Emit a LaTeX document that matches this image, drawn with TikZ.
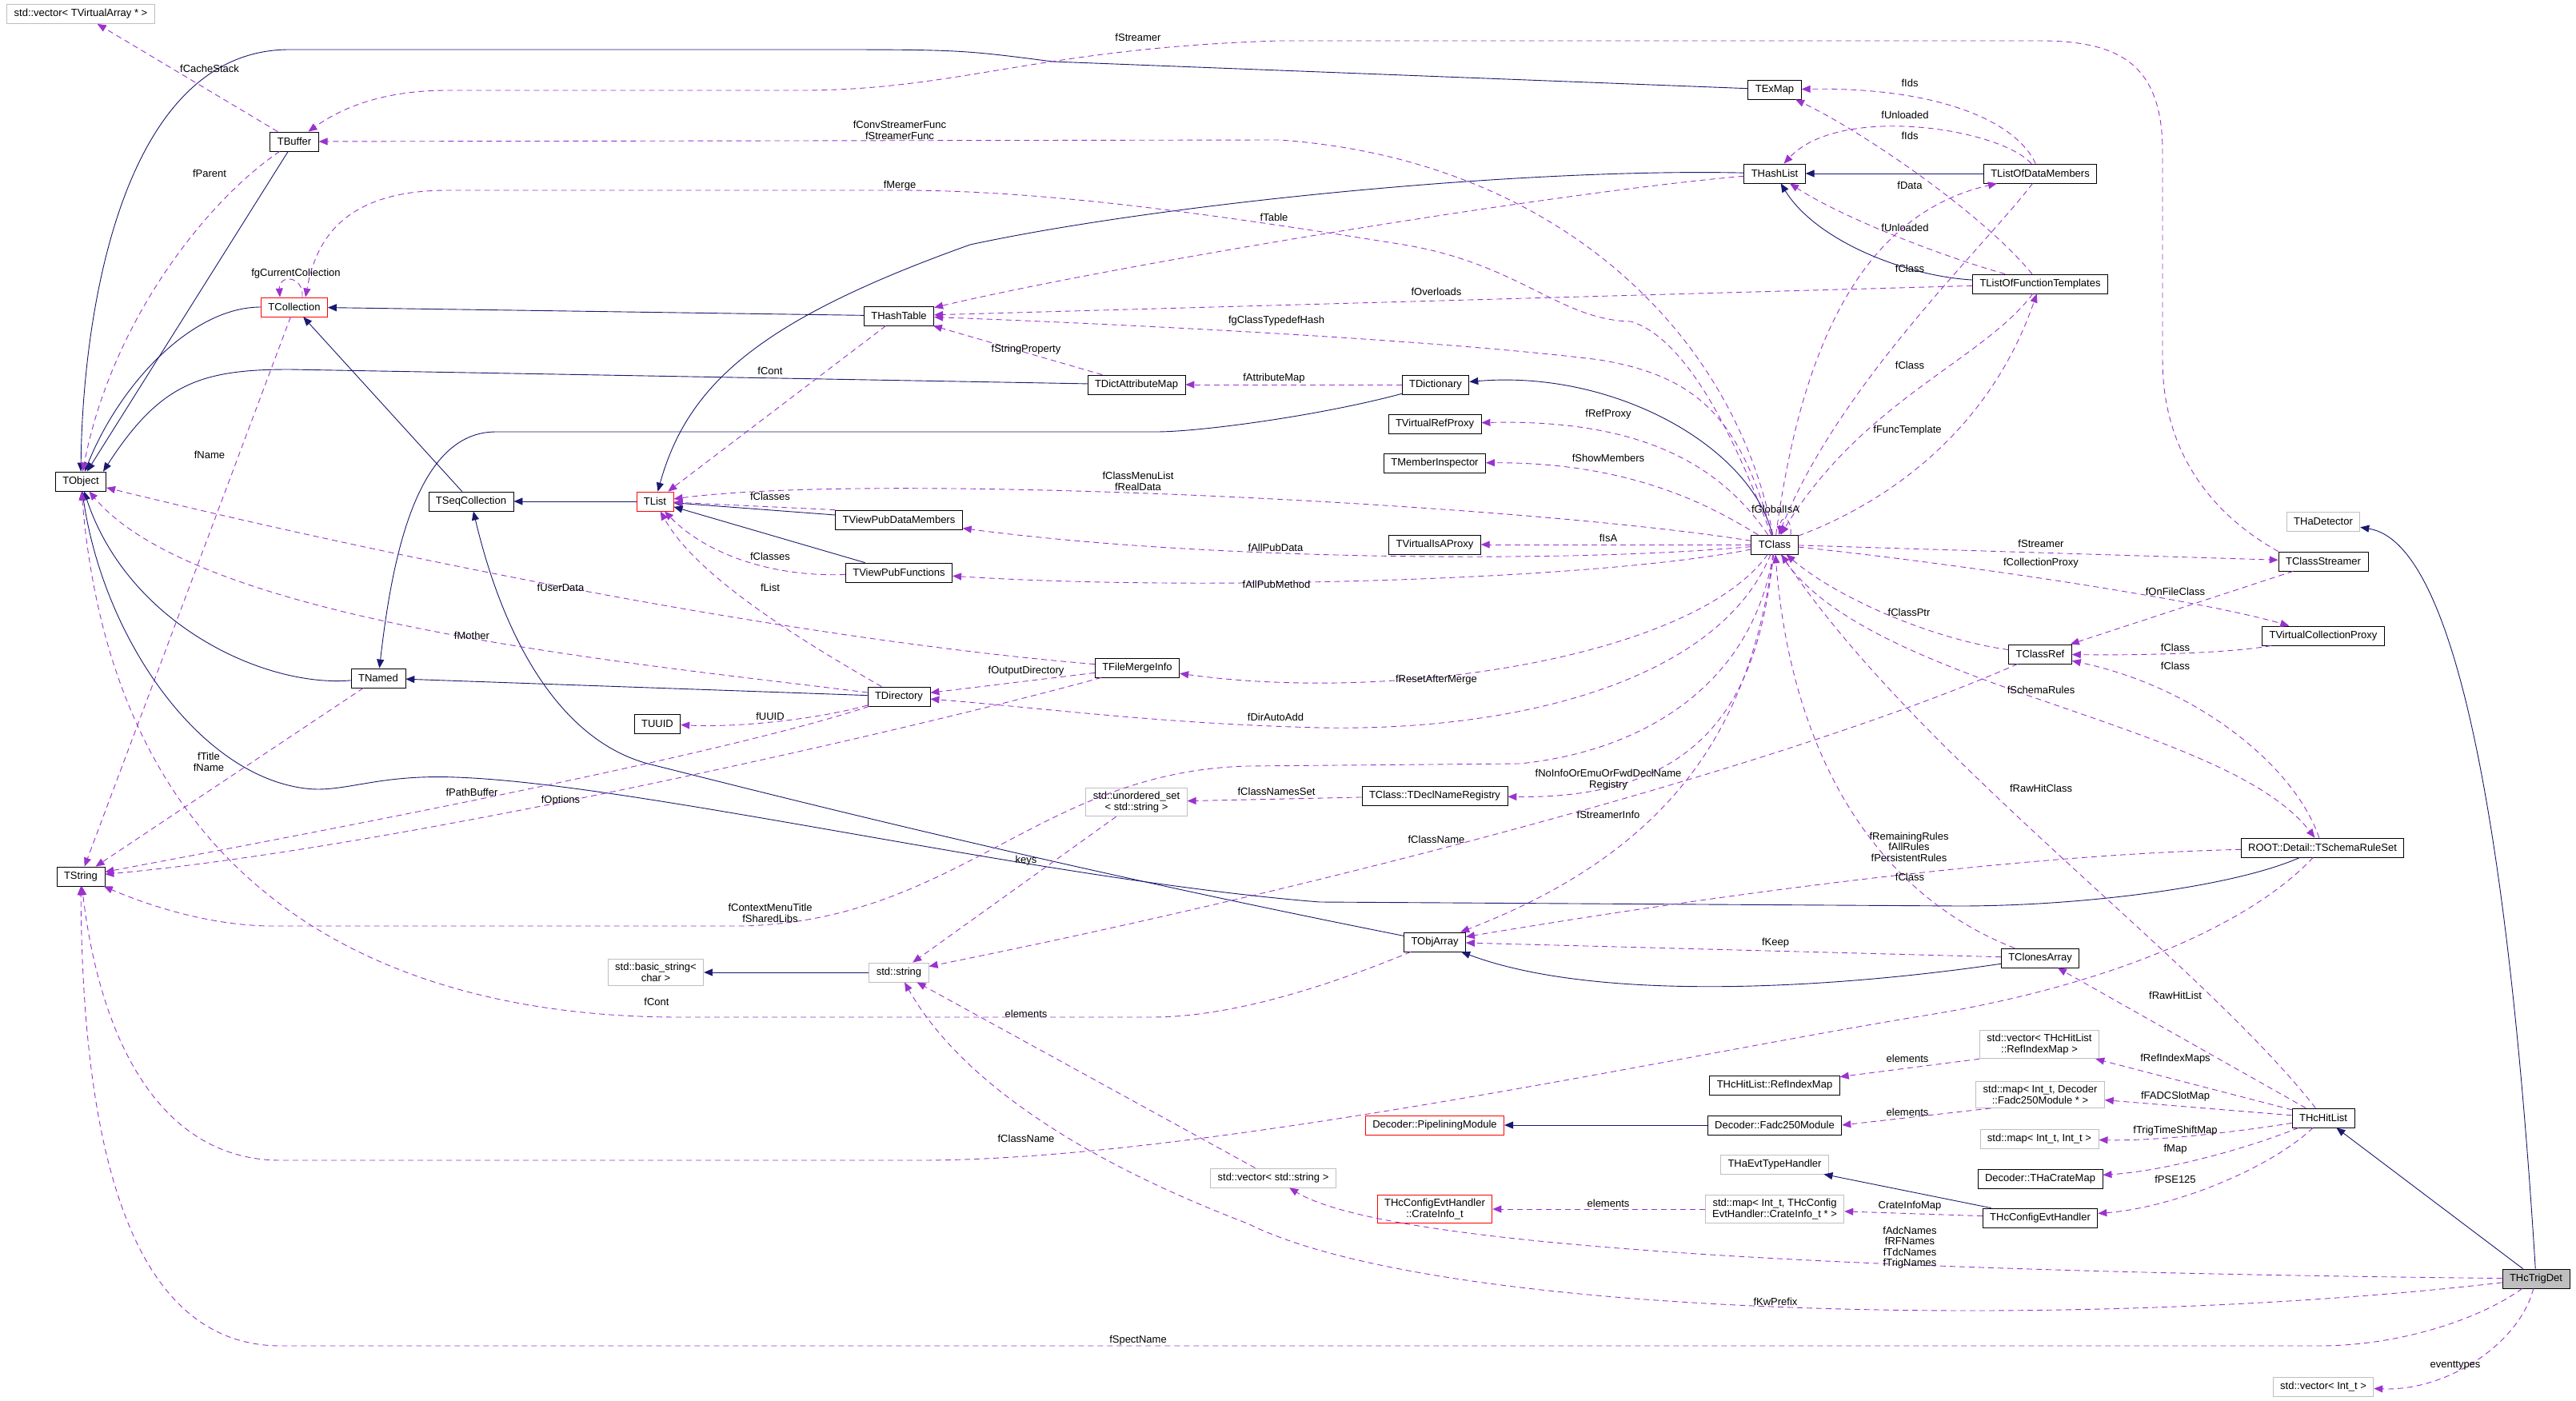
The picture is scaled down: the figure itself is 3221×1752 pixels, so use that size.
\documentclass[tikz,border=0pt]{standalone}
\usepackage{fontspec}
\setmainfont{Liberation Sans}
\usepackage{tikz}
\usetikzlibrary{arrows.meta,positioning}
\definecolor{inhcol}{HTML}{191970}
\definecolor{usecol}{HTML}{9A32CD}
\definecolor{boxgray}{HTML}{BFBFBF}
\tikzset{
  clsbox/.style={draw=black,line width=0.8pt,fill=white,inner xsep=9pt,inner ysep=5pt,minimum height=24pt,align=center},
  clsred/.style={clsbox,draw=red},
  clsgray/.style={clsbox,draw=boxgray},
  clsmain/.style={clsbox,fill=boxgray},
  relinh/.style={-{Triangle[length=11pt,width=9pt]},draw=inhcol,line width=0.9pt},
  reluse/.style={-{Triangle[length=11pt,width=9pt]},draw=usecol,line width=0.9pt,dash pattern=on 7pt off 5pt},
  rellab/.style={inner sep=0pt,align=center}
}

\begin{document}
\begin{tikzpicture}[x=1pt,y=-1pt,font=\fontsize{13}{13.5}\selectfont]
  \useasboundingbox (0,0) rectangle (3221,1752);
  % classes
  \node[clsgray] (vecvarray) at (101,17.5) {std::vector< TVirtualArray * >};
  \node[clsbox] (tbuffer) at (368,177) {TBuffer};
  \node[clsred] (tcollection) at (368,384) {TCollection};
  \node[clsbox] (tobject) at (101,602) {TObject};
  \node[clsbox] (tseqcoll) at (589,627) {TSeqCollection};
  \node[clsbox] (tnamed) at (473,848) {TNamed};
  \node[clsbox] (tstring) at (101,1096) {TString};
  \node[clsbox] (tuuid) at (822,905) {TUUID};
  \node[clsred] (tlist) at (819,627) {TList};
  \node[clsbox] (thashtable) at (1124,395) {THashTable};
  \node[clsbox] (tdictattr) at (1421,481) {TDictAttributeMap};
  \node[clsbox] (texmap) at (2219,112) {TExMap};
  \node[clsbox] (thashlist) at (2219,217) {THashList};
  \node[clsbox] (tdictionary) at (1795,481) {TDictionary};
  \node[clsbox] (tvrefproxy) at (1794,530) {TVirtualRefProxy};
  \node[clsbox] (tmeminsp) at (1794,579) {TMemberInspector};
  \node[clsbox] (tlistdata) at (2551,217) {TListOfDataMembers};
  \node[clsbox] (tlistfunc) at (2551,355) {TListOfFunctionTemplates};
  \node[clsbox] (tviewdata) at (1124,650) {TViewPubDataMembers};
  \node[clsbox] (tviewfunc) at (1124,716) {TViewPubFunctions};
  \node[clsbox] (tfilemerge) at (1422,835) {TFileMergeInfo};
  \node[clsbox] (tdirectory) at (1124,871) {TDirectory};
  \node[clsgray] (unordset) at (1421,1003) {std::unordered\_set\\< std::string >};
  \node[clsbox] (tclass) at (2219,681) {TClass};
  \node[clsbox] (tvisaproxy) at (1794,681) {TVirtualIsAProxy};
  \node[clsbox] (tdeclreg) at (1794,995) {TClass::TDeclNameRegistry};
  \node[clsbox] (tobjarray) at (1794,1178) {TObjArray};
  \node[clsgray] (thadetector) at (2905,652) {THaDetector};
  \node[clsbox] (tclassstreamer) at (2905,702) {TClassStreamer};
  \node[clsbox] (tvcollproxy) at (2905,795) {TVirtualCollectionProxy};
  \node[clsbox] (tclassref) at (2551,818) {TClassRef};
  \node[clsbox] (tschemaruleset) at (2904,1060) {ROOT::Detail::TSchemaRuleSet};
  \node[clsgray] (basicstring) at (820,1216) {std::basic\_string<\\char >};
  \node[clsgray] (stdstring) at (1124,1216) {std::string};
  \node[clsbox] (tclonesarray) at (2551,1198) {TClonesArray};
  \node[clsgray] (vecrefindex) at (2550,1306) {std::vector< THcHitList\\::RefIndexMap >};
  \node[clsbox] (refindexmap) at (2219,1357) {THcHitList::RefIndexMap};
  \node[clsgray] (mapfadc) at (2551,1369) {std::map< Int\_t, Decoder\\::Fadc250Module * >};
  \node[clsred] (pipemodule) at (1794,1407) {Decoder::PipeliningModule};
  \node[clsbox] (fadcmodule) at (2219,1407) {Decoder::Fadc250Module};
  \node[clsbox] (thchitlist) at (2905,1398) {THcHitList};
  \node[clsgray] (mapint) at (2550,1424) {std::map< Int\_t, Int\_t >};
  \node[clsbox] (cratemap) at (2551,1474) {Decoder::THaCrateMap};
  \node[clsgray] (thaevttype) at (2219,1456) {THaEvtTypeHandler};
  \node[clsred] (crateinfo) at (1794,1512) {THcConfigEvtHandler\\::CrateInfo\_t};
  \node[clsgray] (mapcrate) at (2219,1512) {std::map< Int\_t, THcConfig\\EvtHandler::CrateInfo\_t * >};
  \node[clsbox] (thcconfig) at (2551,1523) {THcConfigEvtHandler};
  \node[clsgray] (vecstring) at (1592,1473) {std::vector< std::string >};
  \node[clsmain] (thctrigdet) at (3171,1599) {THcTrigDet};
  \node[clsgray] (vecint) at (2905,1734) {std::vector< Int\_t >};

  % inheritance
  \draw[relinh] (tbuffer) -- (tobject);
  \draw[relinh] (tcollection) .. controls (240,384) and (150,480) .. (tobject);
  \draw[relinh] (texmap) -- (1316,77) .. controls (1200,62) .. (1007,62) -- (362,62) .. controls (150,62) and (103,400) .. (tobject);
  \draw[relinh] (thashlist) .. controls (1900,210) and (1450,255) .. (1213,306) .. controls (950,400) and (860,480) .. (tlist);
  \draw[relinh] (thashtable) -- (tcollection);
  \draw[relinh] (tseqcoll) -- (tcollection);
  \draw[relinh] (tlist) -- (tseqcoll);
  \draw[relinh] (tdictattr) -- (362,462) .. controls (250,462) and (200,480) .. ([xshift=-4pt]tobject.north east);
  \draw[relinh] (tdictionary) .. controls (1650,520) and (1500,540) .. (1446,540) -- (620,540) .. controls (520,540) and (490,700) .. (tnamed);
  \draw[relinh] (tclass) .. controls (2190,560) and (2020,462) .. (tdictionary);
  \draw[relinh] (tlistdata) -- (thashlist);
  \draw[relinh] (tlistfunc) .. controls (2380,345) and (2270,300) .. (thashlist);
  \draw[relinh] (tviewdata) -- (tlist);
  \draw[relinh] (tviewfunc) -- (tlist);
  \draw[relinh] (tdirectory) -- (tnamed);
  \draw[relinh] (tnamed) .. controls (330,860) and (160,780) .. (tobject);
  \draw[relinh] (tschemaruleset) .. controls (2790,1110) and (2600,1133) .. (2450,1133) -- (1650,1128) .. controls (1300,1100) and (800,980) .. (570,972) .. controls (470,968) and (430,992) .. (382,986) .. controls (250,970) and (130,800) .. (tobject);
  \draw[relinh] (tobjarray) .. controls (1300,1080) and (950,990) .. (810,955) .. controls (700,925) and (630,800) .. (tseqcoll);
  \draw[relinh] (tclonesarray) .. controls (2300,1235) and (2000,1255) .. (tobjarray);
  \draw[relinh] (stdstring) -- (basicstring);
  \draw[relinh] (fadcmodule) -- (pipemodule);
  \draw[relinh] (thcconfig) -- (thaevttype);
  \draw[relinh] (thctrigdet) -- (thchitlist);
  \draw[relinh] (thctrigdet) .. controls (3140,1100) and (3080,680) .. (thadetector);

  % members
  \draw[reluse] (tbuffer) -- (vecvarray) node[rellab] (lcachestack) at (262,86) {fCacheStack};
  \draw[reluse] (tbuffer) .. controls (260,250) and (140,400) .. (tobject) node[rellab] (lparent) at (262,217) {fParent};
  \draw[reluse] ([xshift=10pt]tcollection.north) .. controls +(2,-28) and +(-2,-28) .. ([xshift=-18pt]tcollection.north) node[rellab] (lcurcoll) at (370,342) {fgCurrentCollection};
  \draw[reluse] (tcollection) -- (tstring) node[rellab] (lname) at (262,569) {fName};
  \draw[reluse] (tclass) .. controls (2160,520) and (2100,420) .. (2039,402) .. controls (1950,400) and (1900,330) .. (1755,306) .. controls (1500,265) and (1300,238) .. (1125,238) -- (560,238) .. controls (430,238) and (395,300) .. ([xshift=14pt]tcollection.north) node[rellab] (lmerge) at (1125,232) {fMerge};
  \draw[reluse] (thashlist) .. controls (1950,240) and (1400,330) .. (thashtable) node[rellab] (ltable) at (1593,272) {fTable};
  \draw[reluse] (tlistfunc) -- (thashtable) node[rellab] (loverloads) at (1796,365) {fOverloads};
  \draw[reluse] (tclass) .. controls (2175,520) and (2120,470) .. (2000,450) .. controls (1800,425) and (1400,405) .. (thashtable) node[rellab] (ltypedef) at (1596,401) {fgClassTypedefHash};
  \draw[reluse] (tdictattr) -- (thashtable) node[rellab] (lstrprop) at (1283,437) {fStringProperty};
  \draw[reluse] (tdictionary) -- (tdictattr) node[rellab] (lattrmap) at (1593,473) {fAttributeMap};
  \draw[reluse] (tlistdata) .. controls (2520,150) and (2420,109) .. (texmap) node[rellab] (lids1) at (2388,104) {fIds};
  \draw[reluse] (tlistfunc) .. controls (2480,268) and (2330,165) .. (texmap) node[rellab] (lids2) at (2388,170) {fIds};
  \draw[reluse] (tlistdata) .. controls (2500,160) and (2300,130) .. (thashlist) node[rellab] (lunload1) at (2382,144) {fUnloaded};
  \draw[reluse] (tlistfunc) .. controls (2420,318) and (2300,270) .. (thashlist) node[rellab] (lunload2) at (2382,285) {fUnloaded};
  \draw[reluse] (tclass) .. controls (2250,450) and (2320,270) .. (tlistdata) node[rellab] (ldata) at (2388,232) {fData};
  \draw[reluse] (tlistdata) .. controls (2480,310) and (2300,480) .. (tclass) node[rellab] (lclass1) at (2388,336) {fClass};
  \draw[reluse] (tlistfunc) .. controls (2480,450) and (2330,500) .. (tclass) node[rellab] (lclass2) at (2388,457) {fClass};
  \draw[reluse] (tclass) .. controls (2330,640) and (2480,560) .. (tlistfunc) node[rellab] (lfunctpl) at (2385,538) {fFuncTemplate};
  \draw[reluse] (tclass) .. controls (2150,580) and (2050,524) .. (tvrefproxy) node[rellab] (lrefproxy) at (2011,518) {fRefProxy};
  \draw[reluse] (tclass) .. controls (2150,640) and (2050,578) .. (tmeminsp) node[rellab] (lshowmem) at (2011,573) {fShowMembers};
  \draw[reluse] (tclass) .. controls (1900,630) and (1100,590) .. (tlist) node[rellab] (lmenulist) at (1423,602) {fClassMenuList\\fRealData};
  \draw[reluse] (tviewdata.north west) -- (tlist) node[rellab] (lclasses1) at (963,621) {fClasses};
  \draw[reluse] (tviewfunc) .. controls (960,722) and (880,690) .. (tlist) node[rellab] (lclasses2) at (963,696) {fClasses};
  \draw[reluse] (tdirectory) .. controls (1000,800) and (870,720) .. (tlist) node[rellab] (llist) at (963,735) {fList};
  \draw[reluse] (tclass) .. controls (1950,705) and (1500,700) .. (tviewdata) node[rellab] (lallpubdata) at (1595,685) {fAllPubData};
  \draw[reluse] (tclass) .. controls (2000,725) and (1500,740) .. (tviewfunc) node[rellab] (lallpubmeth) at (1596,731) {fAllPubMethod};
  \draw[reluse] (tclass) -- (tvisaproxy) node[rellab] (lisa) at (2011,673) {fIsA};
  \draw[reluse] ([xshift=20pt]tclass.north) .. controls +(2,-24) and +(-2,-24) .. ([xshift=8pt]tclass.north) node[rellab] (lglobalisa) at (2220,637) {fGlobalIsA};
  \draw[reluse] (tfilemerge) .. controls (1000,800) and (500,700) .. (tobject) node[rellab] (luserdata) at (701,735) {fUserData};
  \draw[reluse] (tdirectory) .. controls (800,830) and (250,780) .. (tobject) node[rellab] (lmother) at (590,795) {fMother};
  \draw[reluse] (tclass) .. controls (2120,820) and (1750,880) .. (tfilemerge) node[rellab] (lresetmerge) at (1796,850) {fResetAfterMerge};
  \draw[reluse] (tfilemerge) -- (tdirectory) node[rellab] (loutdir) at (1283,839) {fOutputDirectory};
  \draw[reluse] (tclass) .. controls (2150,850) and (1900,915) .. (1650,910) .. controls (1450,905) and (1300,885) .. (tdirectory) node[rellab] (ldirauto) at (1595,897) {fDirAutoAdd};
  \draw[reluse] (tdirectory) .. controls (1020,900) and (920,910) .. (tuuid) node[rellab] (luuid) at (963,896) {fUUID};
  \draw[reluse] (tnamed) -- (tstring) node[rellab] (ltitle) at (261,953) {fTitle\\fName};
  \draw[reluse] (tdirectory) .. controls (900,945) and (400,1040) .. (tstring) node[rellab] (lpathbuf) at (590,991) {fPathBuffer};
  \draw[reluse] (tfilemerge) .. controls (1150,910) and (500,1060) .. (tstring) node[rellab] (loptions) at (701,1001) {fOptions};
  \draw[reluse] (tclass) .. controls (2190,860) and (2050,940) .. (1900,955) -- (1560,958) .. controls (1300,965) and (1200,1150) .. (930,1158) -- (341,1158) .. controls (260,1158) and (180,1130) .. (tstring) node[rellab] (lctxmenu) at (963,1142) {fContextMenuTitle\\fSharedLibs};
  \draw[reluse] (tclass) .. controls (2200,850) and (2150,1000) .. (tdeclreg) node[rellab] (ldeclreg) at (2011,975) {fNoInfoOrEmuOrFwdDeclName\\Registry};
  \draw[reluse] (tdeclreg) -- (unordset) node[rellab] (lnamesset) at (1596,990) {fClassNamesSet};
  \draw[reluse] (unordset) -- (stdstring) node[rellab] (lkeys) at (1283,1076) {keys};
  \draw[reluse] (tclass) .. controls (2190,900) and (2100,1060) .. (tobjarray) node[rellab] (lstrinfo) at (2011,1019) {fStreamerInfo};
  \draw[reluse] (tschemaruleset) .. controls (2550,1068) and (2200,1110) .. (tobjarray) node[rellab] (lrules) at (2387,1059) {fRemainingRules\\fAllRules\\fPersistentRules};
  \draw[reluse] (tclonesarray) .. controls (2350,1120) and (2240,950) .. (tclass) node[rellab] (lclass3) at (2388,1097) {fClass};
  \draw[reluse] (tclonesarray) -- (tobjarray) node[rellab] (lkeep) at (2220,1179) {fKeep};
  \draw[reluse] (tclassref) .. controls (2250,950) and (1700,1100) .. (stdstring) node[rellab] (lclassname1) at (1796,1050) {fClassName};
  \draw[reluse] (tschemaruleset) .. controls (2800,1170) and (2600,1240) .. (2400,1271) .. controls (2100,1320) and (1500,1451) .. (1150,1451) -- (351,1451) .. controls (200,1451) and (125,1300) .. (tstring) node[rellab] (lclassname2) at (1283,1424) {fClassName};
  \draw[reluse] (tclassref) .. controls (2420,800) and (2300,750) .. (tclass) node[rellab] (lclassptr) at (2387,766) {fClassPtr};
  \draw[reluse] (tclassstreamer) -- (tclassref) node[rellab] (lonfile) at (2720,740) {fOnFileClass};
  \draw[reluse] (tclass) .. controls (2450,705) and (2750,750) .. (tvcollproxy) node[rellab] (lcollproxy) at (2552,704) {fCollectionProxy};
  \draw[reluse] (tclass) -- (tclassstreamer) node[rellab] (lstreamer1) at (2552,680) {fStreamer};
  \draw[reluse] (tclassstreamer.north west) .. controls (2760,640) and (2704,560) .. (2704,450) -- (2704,190) .. controls (2704,80) and (2650,51) .. (2550,51) -- (1600,51) .. controls (1300,60) and (1200,113) .. (1000,113) -- (560,113) .. controls (470,113) and (420,140) .. (tbuffer) node[rellab] (lstreamer2) at (1423,47) {fStreamer};
  \draw[reluse] (tvcollproxy) .. controls (2800,815) and (2700,820) .. (tclassref) node[rellab] (lclass4) at (2720,810) {fClass};
  \draw[reluse] (tschemaruleset) .. controls (2870,960) and (2750,860) .. (tclassref) node[rellab] (lclass5) at (2720,833) {fClass};
  \draw[reluse] (tclass) .. controls (2330,860) and (2780,900) .. (tschemaruleset) node[rellab] (lschema) at (2552,863) {fSchemaRules};
  \draw[reluse] (thchitlist) .. controls (2750,1200) and (2400,950) .. (tclass) node[rellab] (lrawhitclass) at (2552,986) {fRawHitClass};
  \draw[reluse] (thchitlist) -- (tclonesarray) node[rellab] (lrawhitlist) at (2720,1245) {fRawHitList};
  \draw[reluse] (thchitlist) -- (vecrefindex) node[rellab] (lrefidxmaps) at (2720,1324) {fRefIndexMaps};
  \draw[reluse] (vecrefindex.south west) -- (refindexmap) node[rellab] (lelem1) at (2385,1324) {elements};
  \draw[reluse] (thchitlist) -- (mapfadc) node[rellab] (lfadcslot) at (2720,1371) {fFADCSlotMap};
  \draw[reluse] ([xshift=19pt]mapfadc.south west) -- (fadcmodule.east) node[rellab] (lelem2) at (2385,1391) {elements};
  \draw[reluse] (thchitlist) .. controls (2800,1415) and (2700,1427) .. (mapint) node[rellab] (ltrigshift) at (2720,1414) {fTrigTimeShiftMap};
  \draw[reluse] (thchitlist) .. controls (2800,1440) and (2700,1465) .. (cratemap) node[rellab] (lmap) at (2720,1437) {fMap};
  \draw[reluse] (thchitlist) .. controls (2840,1460) and (2720,1510) .. (thcconfig) node[rellab] (lpse) at (2720,1475) {fPSE125};
  \draw[reluse] (thcconfig) -- (mapcrate) node[rellab] (lcrateinfomap) at (2388,1508) {CrateInfoMap};
  \draw[reluse] (mapcrate) -- (crateinfo) node[rellab] (lelem3) at (2011,1505) {elements};
  \draw[reluse] (thctrigdet) .. controls (2500,1592) and (1750,1570) .. (vecstring) node[rellab] (lnames) at (2388,1560) {fAdcNames\\fRFNames\\fTdcNames\\fTrigNames};
  \draw[reluse] (vecstring) -- (stdstring) node[rellab] (lelem4) at (1283,1268) {elements};
  \draw[reluse] (thctrigdet) .. controls (2600,1665) and (1800,1650) .. (1560,1530) .. controls (1350,1450) and (1200,1350) .. (stdstring) node[rellab] (lkwprefix) at (2220,1628) {fKwPrefix};
  \draw[reluse] (thctrigdet) .. controls (3100,1650) and (3000,1683) .. (2900,1683) -- (351,1683) .. controls (150,1683) and (103,1400) .. (tstring) node[rellab] (lspectname) at (1423,1676) {fSpectName};
  \draw[reluse] (thctrigdet) .. controls (3150,1680) and (3060,1740) .. (vecint) node[rellab] (leventtypes) at (3070,1708) {eventtypes};
  \draw[reluse] (tobjarray) .. controls (1680,1225) and (1550,1272) .. (1440,1272) -- (850,1272) .. controls (600,1272) and (150,1200) .. (tobject) node[rellab] (lcont2) at (821,1253) {fCont};
  \draw[reluse] (thashtable) -- (tlist) node[rellab] (lcont1) at (963,464) {fCont};
  \draw[reluse] (tclass) .. controls (2170,420) and (1950,200) .. (1600,175) -- (tbuffer) node[rellab] (lconvstream) at (1125,163) {fConvStreamerFunc\\fStreamerFunc};
\end{tikzpicture}
\end{document}
